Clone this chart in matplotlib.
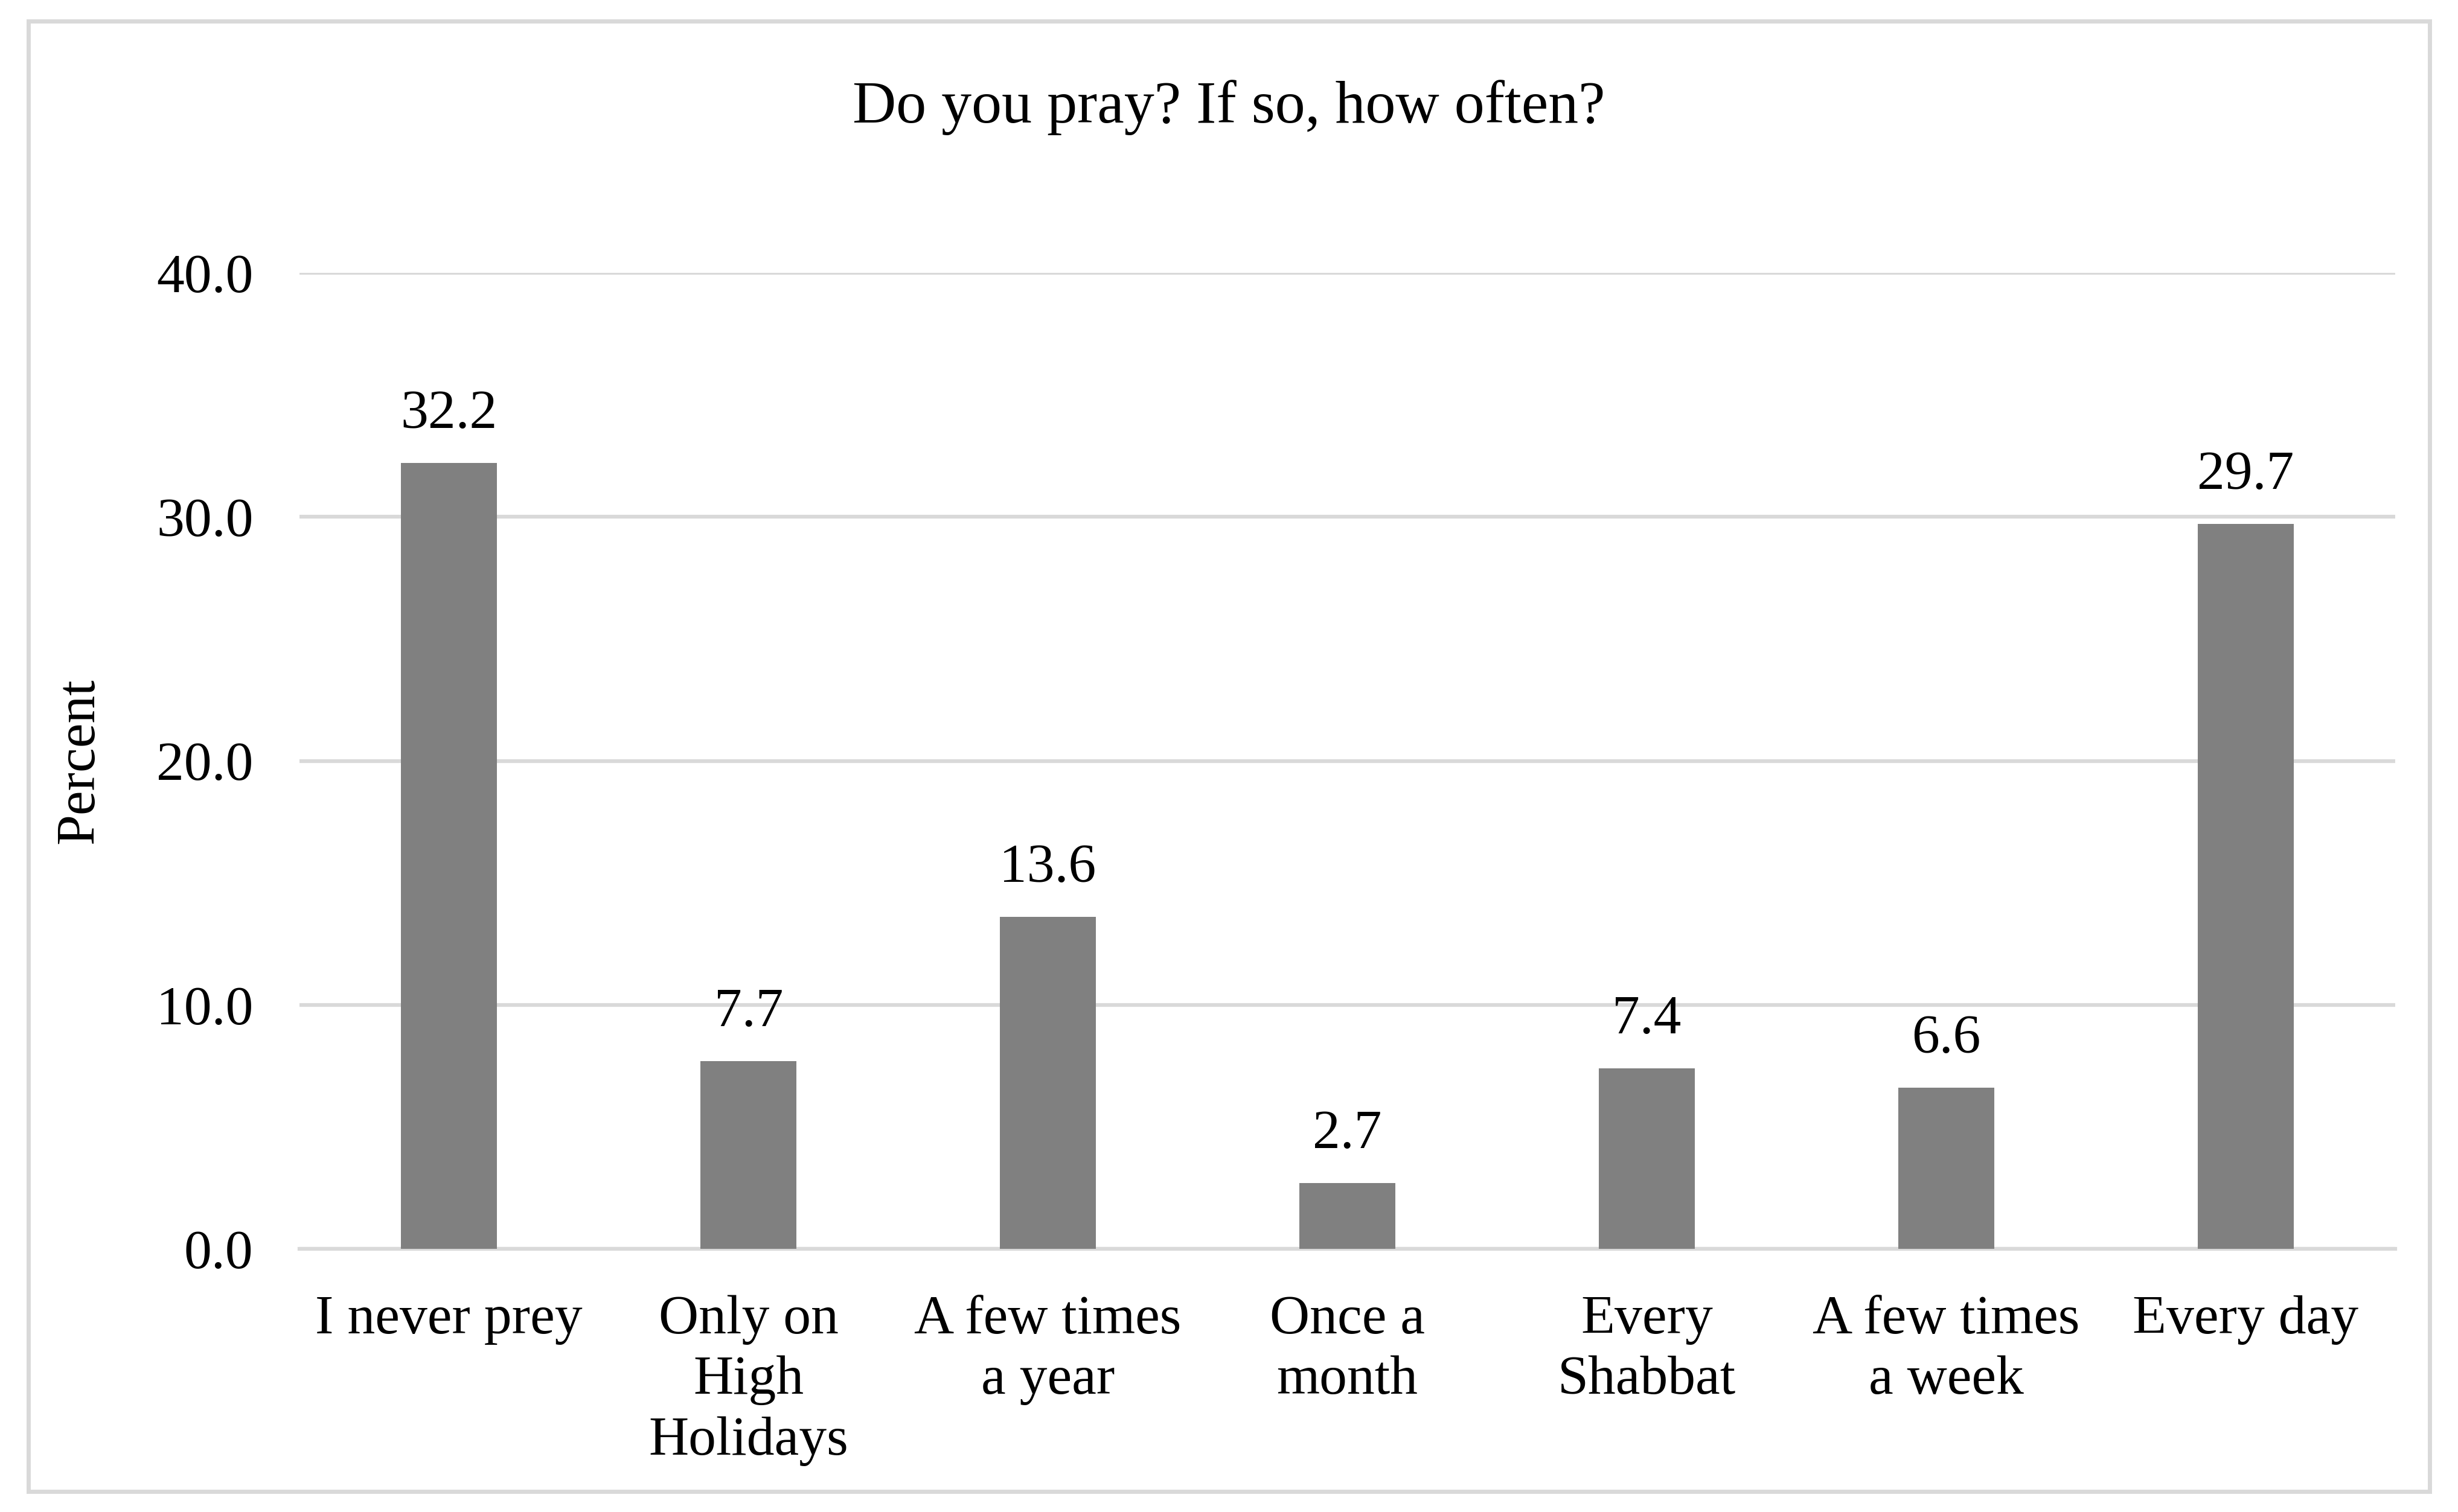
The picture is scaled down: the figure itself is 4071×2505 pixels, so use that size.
import matplotlib
matplotlib.use('Agg')
import matplotlib.pyplot as plt
from matplotlib.patches import Rectangle

categories = ['I never prey', 'Only on\nHigh\nHolidays', 'A few times\na year', 'Once a\nmonth',
              'Every\nShabbat', 'A few times\na week', 'Every day']
values = [32.2, 7.7, 13.6, 2.7, 7.4, 6.6, 29.7]
yticks = [0, 10, 20, 30, 40]

plt.rcParams['font.family'] = ['Liberation Serif', 'DejaVu Serif']

fig = plt.figure(figsize=(40.71, 25.05), dpi=100)
ax = fig.add_axes([0.1218, 0.174, 0.8527, 0.6456])

x = range(len(categories))
bars = ax.bar(x, values, width=0.32, color='#808080', zorder=3)
for b, v in zip(bars, values):
    ax.annotate(f'{v:.1f}', (b.get_x() + b.get_width() / 2, v), xytext=(0, 28),
                textcoords='offset points', ha='center', va='bottom', fontsize=66)

ax.set_xlim(-0.5, 6.5)
ax.set_ylim(0, 40)
ax.set_yticks(yticks)
ax.set_yticklabels([f'{t:.1f}' for t in yticks], fontsize=66)
ax.set_xticks(list(x))
ax.set_xticklabels(categories, fontsize=66, linespacing=1.28)
ax.tick_params(axis='both', length=0)
ax.tick_params(axis='x', pad=55)
ax.tick_params(axis='y', pad=55)
ax.yaxis.grid(True, color='#d9d9d9', linewidth=4.5, zorder=0)
for s in ['top', 'right', 'left']:
    ax.spines[s].set_visible(False)
ax.spines['bottom'].set_color('#d9d9d9')
ax.spines['bottom'].set_linewidth(4.5)

ax.set_ylabel('Percent', fontsize=66)
ax.yaxis.set_label_coords(-0.093, 0.5)
fig.text(0.5, 0.929, 'Do you pray? If so, how often?', ha='center', va='center', fontsize=72)

fig.patches.append(Rectangle((0.0115, 0.0135), 0.977, 0.9725, transform=fig.transFigure,
                             fill=False, edgecolor='#d9d9d9', linewidth=5))

fig.savefig('out.png', dpi=100)
